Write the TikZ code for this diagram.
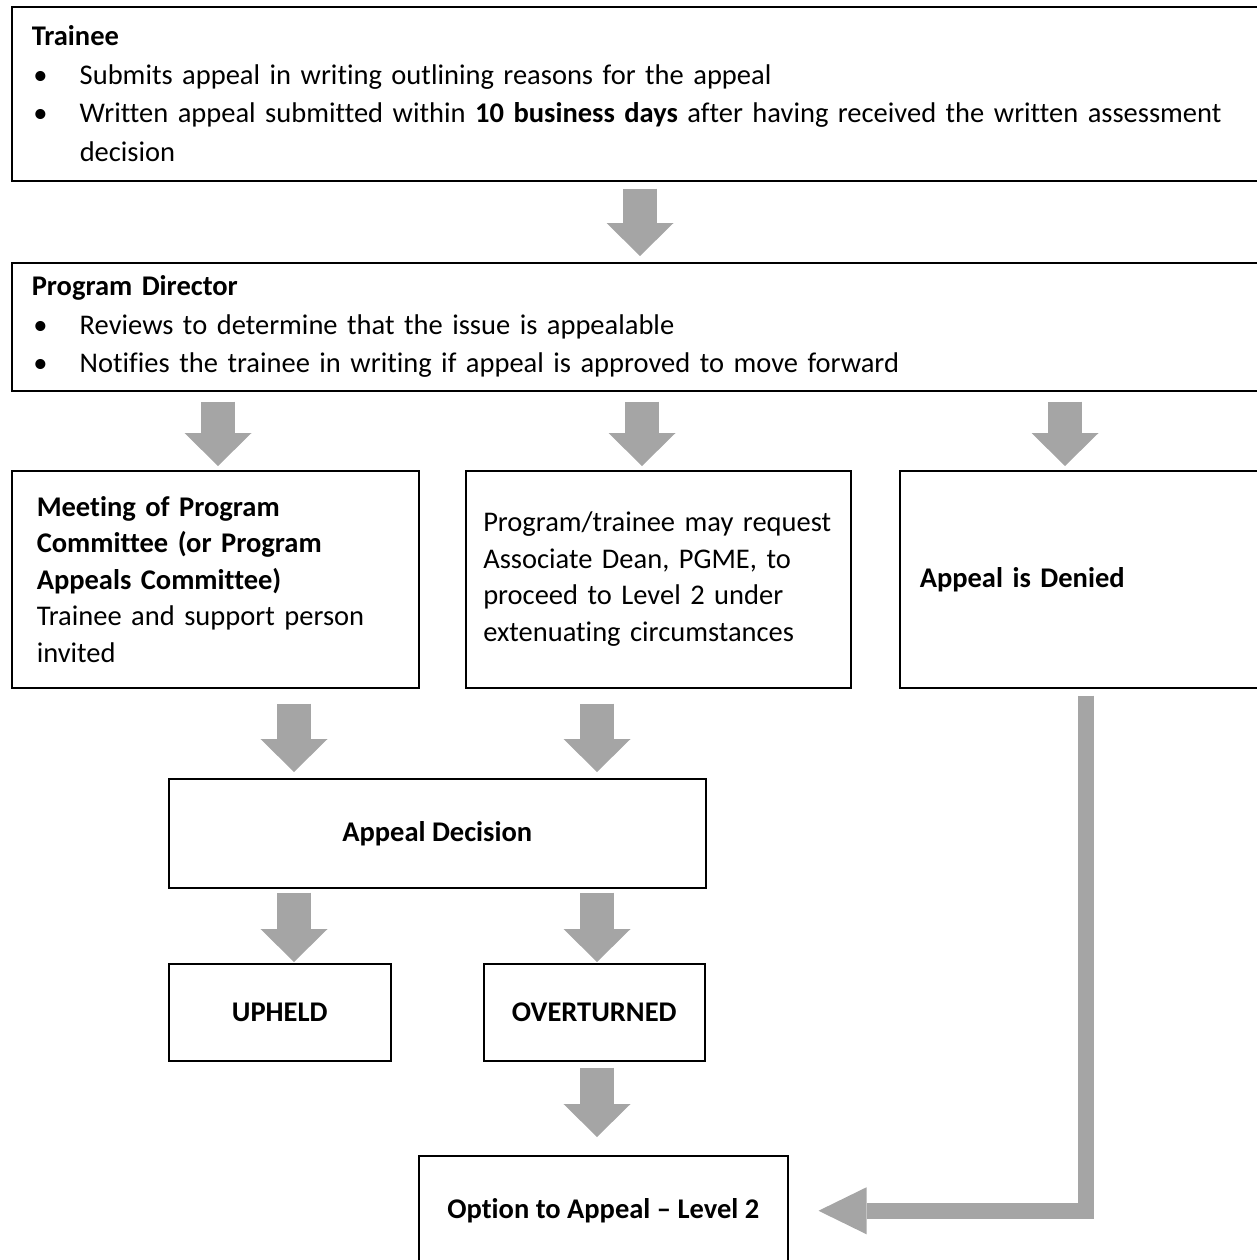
\documentclass[tikz,border=0pt]{standalone}
\usepackage{fontspec}
\setmainfont{Carlito}[Ligatures=NoCommon]
\usetikzlibrary{arrows.meta}
\definecolor{arrowgray}{HTML}{A5A5A5}
\newcommand{\bul}[1]{\par\noindent\hangindent=19.2pt\hangafter=1\makebox[19.2pt][l]{\hspace{0.6pt}\textbullet}#1\par}

\begin{document}
\begin{tikzpicture}[
                x=0.4pt, y=-0.4pt,
                box/.style={draw, line width=0.6pt, anchor=north west, inner xsep=8pt, inner ysep=0pt, align=left, font=\fontsize{11.4pt}{14.6pt}\selectfont},
                listbox/.style={box, font=\fontsize{11.4pt}{15.4pt}\selectfont},
                boldbox/.style={box, align=center, font=\fontsize{11.4pt}{14.6pt}\selectfont\bfseries},
                garrow/.style={draw=arrowgray, line width=13.6pt, -{Triangle[length=13.2pt, width=26.8pt, line width=0pt]}},
                bentarrow/.style={draw=arrowgray, line width=6.4pt, line join=miter, -{Triangle[length=19.2pt, width=18.8pt, line width=0pt]}}
            ]
                \useasboundingbox (0,0) rectangle (1257,1260);

                \node[listbox, text width=504pt, minimum height=69.6pt] (trainee) at (11,6)
                    {\textbf{Trainee}
                     \bul{Submits appeal in writing outlining reasons for the appeal}
                     \bul{Written appeal submitted within \textbf{10 business days} after having received the written assessment\newline decision}};
                \node[listbox, text width=504pt, minimum height=51.2pt] (director) at (11,262)
                    {\textbf{Program Director}
                     \bul{Reviews to determine that the issue is appealable}
                     \bul{Notifies the trainee in writing if appeal is approved to move forward}};

                \node[box, inner xsep=10pt, text width=142.8pt, minimum height=86.8pt] (meeting) at (11,470)
                    {\textbf{Meeting of Program}\\\textbf{Committee (or Program}\\\textbf{Appeals Committee)}\\Trainee and support person\\invited};
                \node[box, inner xsep=7pt, text width=140pt, minimum height=86.8pt] (request) at (465,470)
                    {Program/trainee may request\\Associate Dean, PGME, to\\proceed to Level 2 under\\extenuating circumstances};
                \node[box, text width=144pt, minimum height=86.8pt] (denied) at (899,470)
                    {\textbf{Appeal is Denied}};

                \node[boldbox, minimum width=214.8pt, minimum height=43.6pt] (decision) at (168,778) {Appeal Decision};
                \node[boldbox, minimum width=88.8pt, minimum height=38.8pt] (upheld) at (168,963) {UPHELD};
                \node[boldbox, minimum width=88.4pt, minimum height=38.8pt] (overturned) at (483,963) {OVERTURNED};
                \node[boldbox, minimum width=147.6pt, minimum height=44pt] (option) at (418,1155) {Option to Appeal -- Level 2};

                \coordinate (col1) at (640,0);
                \coordinate (col2) at (218,0);
                \coordinate (col3) at (642,0);
                \coordinate (col4) at (1065,0);
                \coordinate (col5) at (294,0);
                \coordinate (col6) at (597,0);
                \coordinate (col7) at (1086,0);

                \draw[garrow, shorten <=2.8pt, shorten >=2.4pt] (trainee.south -| col1) -- (director.north -| col1);
                \draw[garrow, shorten <=4pt, shorten >=1.6pt] (director.south -| col2) -- (meeting.north -| col2);
                \draw[garrow, shorten <=4pt, shorten >=1.6pt] (director.south -| col3) -- (request.north -| col3);
                \draw[garrow, shorten <=4pt, shorten >=1.6pt] (director.south -| col4) -- (denied.north -| col4);
                \draw[garrow, shorten <=6pt, shorten >=2.4pt] (meeting.south -| col5) -- (decision.north -| col5);
                \draw[garrow, shorten <=6pt, shorten >=2.4pt] (request.south -| col6) -- (decision.north -| col6);
                \draw[garrow, shorten <=1.6pt, shorten >=0.4pt] (decision.south -| col5) -- (upheld.north -| col5);
                \draw[garrow, shorten <=1.6pt, shorten >=0.4pt] (decision.south -| col6) -- (overturned.north -| col6);
                \draw[garrow, shorten <=2.4pt, shorten >=7.2pt] (overturned.south -| col6) -- (option.north -| col6);
                \draw[bentarrow, shorten <=2.8pt, shorten >=12pt] (denied.south -| col7) |- (option.east);
            \end{tikzpicture}
\end{document}
